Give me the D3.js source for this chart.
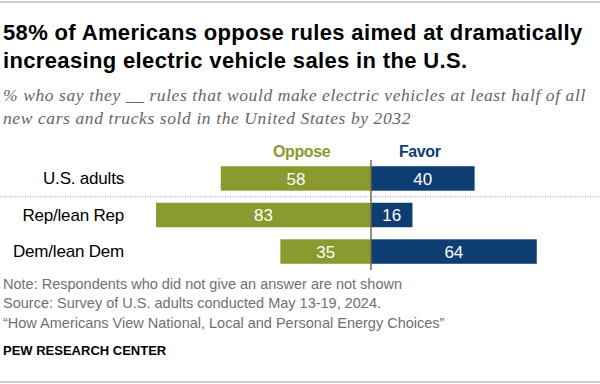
<!DOCTYPE html>
<html>
<head>
<meta charset="utf-8">
<script src="https://cdn.jsdelivr.net/npm/d3@7"></script>
<style>
  html, body { margin: 0; padding: 0; background: #fff; }
  svg { display: block; }
  .title { font-family: "Liberation Sans", Arial, sans-serif; font-weight: bold; font-size: 22px; letter-spacing: 0.35px; fill: #000; }
  .subtitle { font-family: "Liberation Serif", Georgia, serif; font-style: italic; font-size: 17.5px; letter-spacing: 0.6px; fill: #666; }
  .row-label { font-family: "Liberation Sans", Arial, sans-serif; font-size: 17px; letter-spacing: -0.2px; fill: #000; }
  .head { font-family: "Liberation Sans", Arial, sans-serif; font-weight: bold; font-size: 16px; letter-spacing: -0.4px; }
  .val { font-family: "Liberation Sans", Arial, sans-serif; font-size: 17px; fill: #fff; }
  .note { font-family: "Liberation Sans", Arial, sans-serif; font-size: 14.5px; fill: #707070; }
  .brand { font-family: "Liberation Sans", Arial, sans-serif; font-weight: bold; font-size: 13px; fill: #000; }
</style>
</head>
<body>
<svg id="chart" width="600" height="384"></svg>
<script>
// data
const groups = ['U.S. adults', 'Rep/lean Rep', 'Dem/lean Dem'];
const oppose = [58, 83, 35];
const favor = [40, 16, 64];
const seriesNames = ['Oppose', 'Favor'];

const titleLines = [
  '58% of Americans oppose rules aimed at dramatically',
  'increasing electric vehicle sales in the U.S.'
];
const subtitleLines = [
  '% who say they __ rules that would make electric vehicles at least half of all',
  'new cars and trucks sold in the United States by 2032'
];
const noteLines = [
  'Note: Respondents who did not give an answer are not shown',
  'Source: Survey of U.S. adults conducted May 13-19, 2024.',
  '\u201CHow Americans View National, Local and Personal Energy Choices\u201D'
];

const COLORS = { oppose: '#8a9a2e', favor: '#0e3d72', axis: '#6b6a50', rule: '#999' };

const svg = d3.select('#chart');
const W = 600;

// top and bottom rules
svg.append('line').attr('x1', 0).attr('x2', W).attr('y1', 2).attr('y2', 2)
  .attr('stroke', COLORS.rule).attr('stroke-width', 1);
svg.append('line').attr('x1', 0).attr('x2', W).attr('y1', 382).attr('y2', 382)
  .attr('stroke', COLORS.rule).attr('stroke-width', 1);

// title + subtitle
svg.selectAll('.title').data(titleLines).enter().append('text')
  .attr('class', 'title').attr('x', 3).attr('y', (d, i) => 40 + i * 28).text(d => d);
svg.selectAll('.subtitle').data(subtitleLines).enter().append('text')
  .attr('class', 'subtitle').attr('x', 3).attr('y', (d, i) => 101 + i * 23).text(d => d);

// scales: zero at x=371, ~2.59px per point
const x = d3.scaleLinear().domain([-100, 100]).range([371 - 259, 371 + 259]);
const y = d3.scaleBand().domain(groups).range([160, 270]).paddingInner(0.33).paddingOuter(0.17);

// dotted separator under the total row
const sepY = (y(groups[0]) + y.bandwidth() + y(groups[1])) / 2;
svg.append('line').attr('x1', 0).attr('x2', W).attr('y1', sepY).attr('y2', sepY)
  .attr('stroke', '#999').attr('stroke-width', 1).attr('stroke-dasharray', '1,1.5');

// column heads
svg.append('text').attr('class', 'head').attr('x', x(-26.8)).attr('y', 157)
  .attr('text-anchor', 'middle').attr('fill', COLORS.oppose).text(seriesNames[0]);
svg.append('text').attr('class', 'head').attr('x', x(18.8)).attr('y', 157)
  .attr('text-anchor', 'middle').attr('fill', COLORS.favor).text(seriesNames[1]);

const rows = groups.map((g, i) => ({ g, o: oppose[i], f: favor[i] }));

const row = svg.selectAll('.row').data(rows).enter().append('g')
  .attr('transform', d => 'translate(0,' + y(d.g) + ')');

row.append('text').attr('class', 'row-label')
  .attr('x', 124).attr('y', y.bandwidth() / 2).attr('dy', '0.35em')
  .attr('text-anchor', 'end').text(d => d.g);

row.append('rect')
  .attr('x', d => x(-d.o)).attr('y', 0)
  .attr('width', d => x(0) - x(-d.o)).attr('height', y.bandwidth())
  .attr('fill', COLORS.oppose);
row.append('rect')
  .attr('x', x(0)).attr('y', 0)
  .attr('width', d => x(d.f) - x(0)).attr('height', y.bandwidth())
  .attr('fill', COLORS.favor);

row.append('text').attr('class', 'val')
  .attr('x', d => x(-d.o / 2)).attr('y', y.bandwidth() / 2).attr('dy', '0.36em')
  .attr('text-anchor', 'middle').text(d => d.o);
row.append('text').attr('class', 'val')
  .attr('x', d => x(d.f / 2)).attr('y', y.bandwidth() / 2).attr('dy', '0.36em')
  .attr('text-anchor', 'middle').text(d => d.f);

// zero line
svg.append('line').attr('x1', x(0)).attr('x2', x(0)).attr('y1', 160).attr('y2', 270)
  .attr('stroke', COLORS.axis).attr('stroke-width', 1.5);

// notes + brand
svg.selectAll('.note').data(noteLines).enter().append('text')
  .attr('class', 'note').attr('x', 3).attr('y', (d, i) => 289 + i * 19.3).text(d => d);
svg.append('text').attr('class', 'brand').attr('x', 3).attr('y', 355).text('PEW RESEARCH CENTER');
</script>
</body>
</html>
